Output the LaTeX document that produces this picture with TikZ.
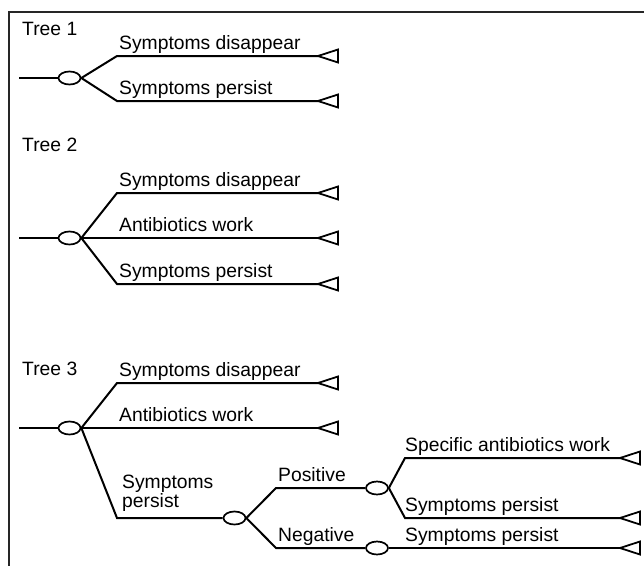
\documentclass[tikz,border=0pt]{standalone}
\usepackage{fontspec}
\setmainfont{Liberation Sans}
\usetikzlibrary{shapes.geometric}
\newcommand{\tightlines}{\lineskiplimit=-30pt\relax\lineskip=0pt\relax}
\tikzset{
  lbl/.style={anchor=base west, inner sep=0pt, font=\fontsize{19.3}{16}\selectfont},
  chance/.style={draw, ellipse, minimum width=22pt, minimum height=13pt, inner sep=0pt, line width=1.7pt, fill=white},
  br/.style={line width=2pt, line join=miter},
  term/.style={line width=1.8pt, line join=miter},
  frame/.style={line width=2.8pt, draw=black!85}
}
\newcommand{\tri}[1]{\draw[term] (#1) -- ++(20,-6.5) -- ++(0,13) -- cycle;}
\begin{document}
\begin{tikzpicture}[x=1pt,y=-1pt]
\useasboundingbox (0,0) rectangle (644,565);
% frame
\coordinate (fb) at (9,566);
\coordinate (ftl) at (9,12);
\coordinate (ftr) at (645,12);
\draw[frame] (fb) -- (ftl) -- (ftr);

% ---------- Tree 1
\node[lbl] (tree1) at (22,35) {Tree 1};
\coordinate (r1) at (19,78);
\node[chance] (e1) at (69.5,78) {};
\coordinate (c1a) at (117,56);
\coordinate (c1b) at (117,101);
\coordinate (t1a) at (318,56);
\coordinate (t1b) at (318,101);
\draw[br] (r1) -- (e1.west);
\draw[br] (e1.east) -- (c1a) -- (t1a);
\draw[br] (e1.east) -- (c1b) -- (t1b);
\tri{t1a}\tri{t1b}
\node[lbl] (l1a) at (119,49) {Symptoms disappear};
\node[lbl] (l1b) at (119,94) {Symptoms persist};

% ---------- Tree 2
\node[lbl] (tree2) at (22,151) {Tree 2};
\coordinate (r2) at (19,238);
\node[chance] (e2) at (69.5,238) {};
\coordinate (c2a) at (117,193);
\coordinate (c2c) at (117,284);
\coordinate (t2a) at (318,193);
\coordinate (t2b) at (318,238);
\coordinate (t2c) at (318,284);
\draw[br] (r2) -- (e2.west);
\draw[br] (e2.east) -- (c2a) -- (t2a);
\draw[br] (e2.east) -- (t2b);
\draw[br] (e2.east) -- (c2c) -- (t2c);
\tri{t2a}\tri{t2b}\tri{t2c}
\node[lbl] (l2a) at (119,186) {Symptoms disappear};
\node[lbl] (l2b) at (119,231) {Antibiotics work};
\node[lbl] (l2c) at (119,277) {Symptoms persist};

% ---------- Tree 3
\node[lbl] (tree3) at (22,375) {Tree 3};
\coordinate (r3) at (19,428);
\node[chance] (e3) at (69.5,428) {};
\coordinate (c3a) at (117,383);
\coordinate (c3c) at (117,518);
\coordinate (t3a) at (318,383);
\coordinate (t3b) at (318,428);
\draw[br] (r3) -- (e3.west);
\draw[br] (e3.east) -- (c3a) -- (t3a);
\draw[br] (e3.east) -- (t3b);
\tri{t3a}\tri{t3b}
\node[lbl] (l3a) at (119,376) {Symptoms disappear};
\node[lbl] (l3b) at (119,421) {Antibiotics work};

\node[chance] (e3s) at (234.5,518) {};
\draw[br] (e3.east) -- (c3c) -- (e3s.west);
\node[lbl, align=left, font={\fontsize{19.3}{18.5}\selectfont\tightlines}] (l3c) at (122,507) {Symptoms\\persist};

\coordinate (cpos) at (276,488);
\coordinate (cneg) at (276,548);
\node[chance] (epos) at (377,488) {};
\node[chance] (eneg) at (377,548) {};
\draw[br] (e3s.east) -- (cpos) -- (epos.west);
\draw[br] (e3s.east) -- (cneg) -- (eneg.west);
\node[lbl] (lpos) at (278,481) {Positive};
\node[lbl] (lneg) at (278,541) {Negative};

\coordinate (cpa) at (405,458);
\coordinate (cpb) at (405,518);
\coordinate (tpa) at (620,458);
\coordinate (tpb) at (620,518);
\coordinate (tn) at (620,548);
\draw[br] (epos.east) -- (cpa) -- (tpa);
\draw[br] (epos.east) -- (cpb) -- (tpb);
\draw[br] (eneg.east) -- (tn);
\tri{tpa}\tri{tpb}\tri{tn}
\node[lbl] (lpa) at (405,451) {Specific antibiotics work};
\node[lbl] (lpb) at (405,511) {Symptoms persist};
\node[lbl] (lnb) at (405,541) {Symptoms persist};
\end{tikzpicture}
\end{document}
